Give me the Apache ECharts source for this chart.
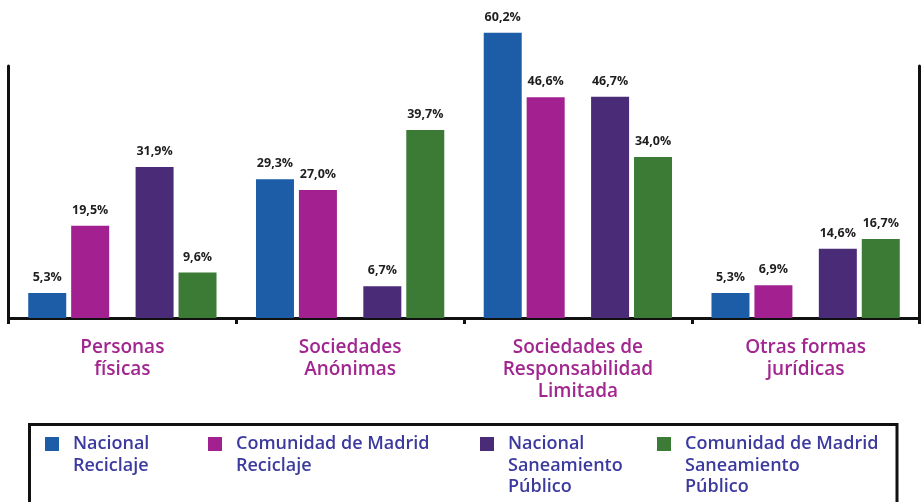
<!DOCTYPE html>
<html>
<head>
<meta charset="utf-8">
<script src="https://cdn.jsdelivr.net/npm/echarts@6/dist/echarts.min.js"></script>
<style>
html,body{margin:0;padding:0;background:#fff;}
#c{width:923px;height:502px;}
</style>
</head>
<body>
<div id="c"></div>
<script>
const categories = ['Personas\nfísicas', 'Sociedades\nAnónimas', 'Sociedades de\nResponsabilidad\nLimitada', 'Otras formas\njurídicas'];
const seriesNames = ['Nacional\nReciclaje', 'Comunidad de Madrid\nReciclaje', 'Nacional\nSaneamiento\nPúblico', 'Comunidad de Madrid\nSaneamiento\nPúblico'];
const nacionalReciclaje = [5.3, 29.3, 60.2, 5.3];
const madridReciclaje = [19.5, 27.0, 46.6, 6.9];
const nacionalSaneamiento = [31.9, 6.7, 46.7, 14.6];
const madridSaneamiento = [9.6, 39.7, 34.0, 16.7];
const colors = ['#1d5ca7', '#a2208f', '#4a2b77', '#3c7b36'];

const FONT = 'Open Sans';
const chart = echarts.init(document.getElementById('c'));

function barSeries(name, data, color) {
  return {
    name: name, type: 'bar', data: data, barWidth: 38, barGap: '13%', clip: false,
    itemStyle: { color: color },
    label: {
      show: true, position: 'top', distance: 9,
      fontFamily: FONT, fontWeight: 'bold', fontSize: 12.5, color: '#1e1e1e',
      formatter: p => p.value.toFixed(1).replace('.', ',') + '%'
    }
  };
}

const legendLefts = [40, 203, 475, 652];
const lh = 21.5;
const legends = seriesNames.map((n, i) => {
  const lines = n.split('\n').length;
  const total = 2 * lines - 1;
  const boxTop = 7 - total * lh / 2;
  return {
    data: [n], left: legendLefts[i], top: 437 - 5 + boxTop,
    orient: 'horizontal', icon: 'rect', itemWidth: 14, itemHeight: 14,
    selectedMode: false,
    formatter: name => '\n'.repeat(lines - 1) + name,
    textStyle: { fontFamily: FONT, fontWeight: 600, fontSize: 18, lineHeight: lh, color: '#3c3a9f', padding: [0, 0, 0, 9] }
  };
});

chart.setOption({
  animation: false,
  backgroundColor: '#fff',
  grid: { left: 8.5, right: 3.5, top: 66, bottom: 184, containLabel: false },
  legend: legends,
  xAxis: {
    type: 'category', data: categories,
    axisLine: { lineStyle: { color: '#111', width: 3 } },
    axisTick: { show: true, length: 6, lineStyle: { color: '#111', width: 3 } },
    axisLabel: { interval: 0, margin: 19, fontFamily: FONT, fontWeight: 600, fontSize: 19, lineHeight: 22, color: '#a2268f' }
  },
  yAxis: [
    { type: 'value', min: 0, max: 53.2, position: 'left',
      axisLine: { show: true, lineStyle: { color: '#111', width: 3 } },
      axisTick: { show: false }, axisLabel: { show: false }, splitLine: { show: false } },
    { type: 'value', min: 0, max: 53.2, position: 'right',
      axisLine: { show: true, lineStyle: { color: '#111', width: 3 } },
      axisTick: { show: false }, axisLabel: { show: false }, splitLine: { show: false } }
  ],
  graphic: [{
    type: 'rect', shape: { x: 29.5, y: 424.5, width: 867.5, height: 100 },
    style: { fill: 'none', stroke: '#111', lineWidth: 3 }, silent: true
  }],
  series: [
    barSeries(seriesNames[0], nacionalReciclaje, colors[0]),
    barSeries(seriesNames[1], madridReciclaje, colors[1]),
    { name: 'spacer', type: 'bar', data: [null, null, null, null], barWidth: 19, barGap: '13%', silent: true },
    barSeries(seriesNames[2], nacionalSaneamiento, colors[2]),
    barSeries(seriesNames[3], madridSaneamiento, colors[3])
  ]
});
</script>
</body>
</html>
